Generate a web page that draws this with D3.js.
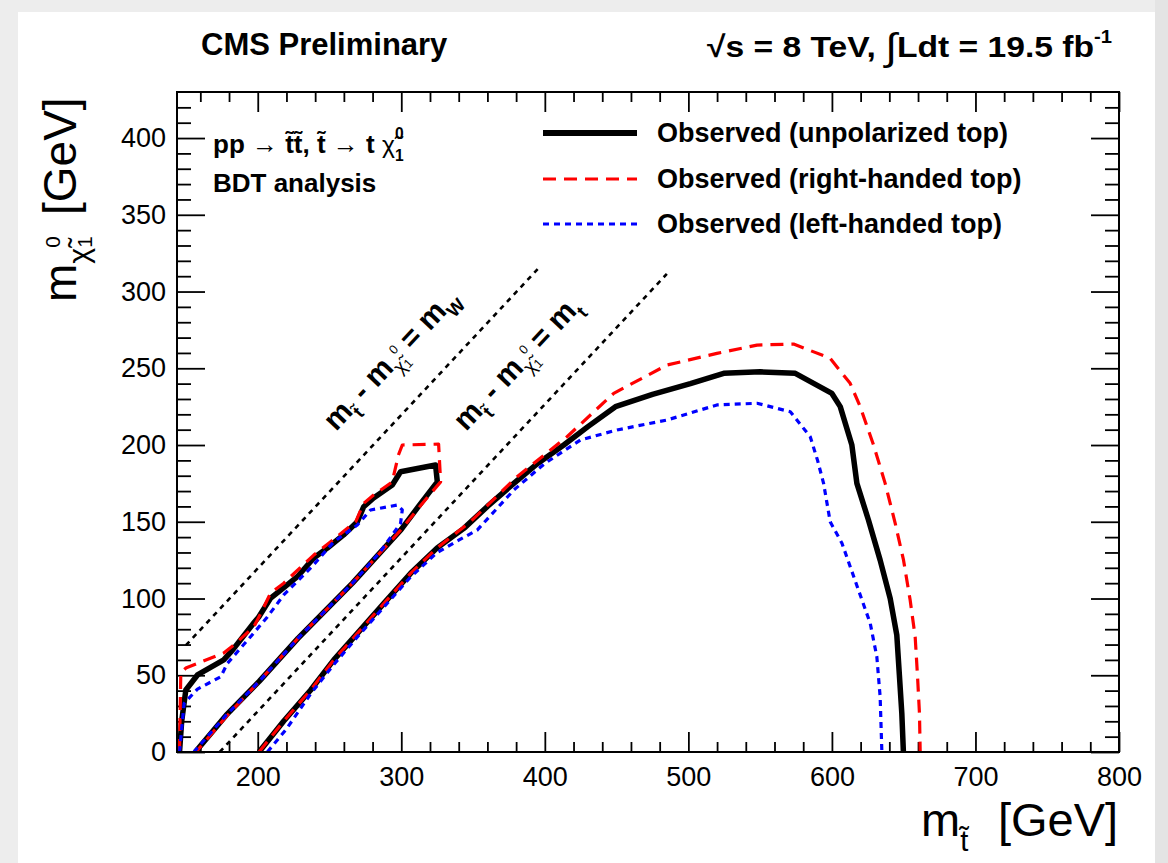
<!DOCTYPE html>
<html><head><meta charset="utf-8">
<script src="https://cdn.jsdelivr.net/npm/d3@7"></script>
<style>
body{margin:0;background:#fff;}
svg{display:block;}
text{font-family:"Liberation Sans",Arial,Helvetica,sans-serif;}
</style>
</head><body>
<svg id="chart" width="1168" height="863"></svg>
<script>
// ---------------- data ----------------
const xMajorTicks = [200, 300, 400, 500, 600, 700, 800];
const yMajorTicks = [0, 50, 100, 150, 200, 250, 300, 350, 400];
const xDomain = [143.75, 800];
const yDomain = [0, 430];

// Observed (unpolarized top) - small island and main region
const obsSmall = [[145.5,0],[147,20],[149.9,40.4],[158,50.2],[176.3,60],[182.4,66.4],[197.2,84],[200.7,88],[209,100.3],[216,105.5],[227.6,114.2],[239,126.4],[248.5,132.9],[259.8,141.4],[269.4,150],[273.8,159.8],[280.7,165.5],[293.7,174],[299.5,182.6],[323.9,187],[325.1,176],[312,160],[300,145],[266,110],[228,74],[201,46],[178,24],[156.5,0]];
const obsBig = [[200.9,0],[218,20],[236.9,40.4],[253,60],[269.4,77.3],[288,97],[306.5,116.4],[325,133],[343.6,145.7],[360,160],[378.4,175],[395,188],[413.2,200],[430,212],[449.2,225],[475,233],[501.4,240],[524.6,246.7],[550.1,247.7],[574.5,246.7],[600,233.6],[605.8,225],[613.9,200],[617.4,175],[625.5,151],[633.6,125],[640.6,100],[645.2,76.2],[647,50.2],[648.7,25.2],[649.8,0]];

// Observed (right-handed top)
const rhSmall = [[145.5,0],[146,30],[146.4,51.5],[149.9,54.7],[176.3,64.5],[183.3,69.7],[197.2,81.4],[203,92],[209,103.6],[218.1,110],[239,128.3],[250.8,137],[268.2,150],[273.8,162],[280.7,167.4],[293.7,176],[298,193.5],[300.7,200],[326,200.6],[327.4,176],[312,159],[300,145],[266,110],[228,74],[201,46],[178,23],[157,0]];
const rhBig = [[200.9,0],[218,20],[236.9,40.4],[253,60],[269.4,77.3],[306.5,116.4],[325,133],[348.2,150],[380.7,179.4],[415.5,205.4],[448,233.7],[485.1,252.1],[519.9,259.7],[547.8,265.1],[573.3,265.8],[598.8,256.5],[612.7,240.2],[619.7,225],[629,200],[637.1,175],[644.1,149],[649.9,125],[654.5,99],[658,75],[659.6,50],[661,25],[661.5,0]];

// Observed (left-handed top)
const lhSmall = [[145.5,0],[147,15],[148.7,31.7],[158,41],[174.2,49],[178.9,57.8],[197.2,77.5],[206.7,88],[218.1,102.3],[236.9,119.9],[253.1,137],[269.4,147.9],[278.6,157.7],[297.2,160.9],[300.7,157.7],[299.5,149],[285,130],[266,110],[228,74],[201,46],[178,24],[155.5,0]];
const lhBig = [[206.7,0],[220,15],[236.9,38],[253,57],[269.4,75],[306.5,114],[325,130],[340,138],[352.9,144.6],[378.4,170.7],[400,188],[424.8,203.3],[450.3,209.8],[485.1,216.3],[519.9,226.1],[547.8,227.2],[571,221.7],[584.9,205.4],[590,190],[594.2,175],[598.8,150],[607,136],[618.5,105.5],[626.7,83.8],[631.3,62],[633.6,36],[634.8,0]];

// kinematic reference lines (endpoints)
const mWLine = [[150,69.6],[395,314.6]];
const mtLine = [[173.5,0],[485,311.5]];

const legendLabels = ["Observed (unpolarized top)", "Observed (right-handed top)", "Observed (left-handed top)"];

// ---------------- layout ----------------
const svg = d3.select("#chart");
const W = 1168, H = 863;
const M = {left:177, right:1119, top:92, bottom:752};
const FONT = '"Liberation Sans",Arial,Helvetica,sans-serif';

svg.append("rect").attr("width",W).attr("height",H).attr("fill","#ededed");
svg.append("rect").attr("x",1155).attr("width",W-1155).attr("height",H).attr("fill","#e4e4e4");
svg.append("rect").attr("x",18).attr("y",12).attr("width",1137).attr("height",H-12).attr("fill","#ffffff");

const x = d3.scaleLinear().domain(xDomain).range([M.left, M.right]);
const y = d3.scaleLinear().domain(yDomain).range([M.bottom, M.top]);

svg.append("clipPath").attr("id","plotclip").append("rect")
  .attr("x",M.left).attr("y",M.top).attr("width",M.right-M.left).attr("height",M.bottom-M.top);

// ---------------- axes ----------------
const xMinor = d3.range(160, 800, 20).filter(v => v % 100 !== 0);
const yMinor = d3.range(10, 430, 10).filter(v => v % 50 !== 0);

function axisG(axis, tr){
  const g = svg.append("g").attr("transform", tr).call(axis);
  g.select(".domain").remove();
  g.selectAll("line").attr("stroke","#000").attr("stroke-width",1.8);
  g.attr("font-family", FONT).attr("font-size", 27);
  g.selectAll("text").attr("fill","#000");
  return g;
}
axisG(d3.axisBottom(x).tickValues(xMajorTicks).tickSize(-20).tickPadding(15).tickFormat(d3.format("d")), `translate(0,${M.bottom})`);
axisG(d3.axisBottom(x).tickValues(xMinor).tickSize(-10).tickFormat(""), `translate(0,${M.bottom})`);
axisG(d3.axisTop(x).tickValues(xMajorTicks).tickSize(-20).tickFormat(""), `translate(0,${M.top})`);
axisG(d3.axisTop(x).tickValues(xMinor).tickSize(-10).tickFormat(""), `translate(0,${M.top})`);
axisG(d3.axisLeft(y).tickValues(yMajorTicks).tickSize(-28).tickPadding(11).tickFormat(d3.format("d")), `translate(${M.left},0)`);
axisG(d3.axisLeft(y).tickValues(yMinor).tickSize(-14).tickFormat(""), `translate(${M.left},0)`);
axisG(d3.axisRight(y).tickValues(yMajorTicks).tickSize(-28).tickFormat(""), `translate(${M.right},0)`);
axisG(d3.axisRight(y).tickValues(yMinor).tickSize(-14).tickFormat(""), `translate(${M.right},0)`);

// ---------------- curves ----------------
const line = d3.line().x(d => x(d[0])).y(d => y(d[1]));
const plot = svg.append("g").attr("clip-path","url(#plotclip)");

[mWLine, mtLine].forEach(l => {
  plot.append("path").attr("d", line(l)).attr("fill","none")
    .attr("stroke","#000").attr("stroke-width",2.6).attr("stroke-dasharray","5,5");
});

const styles = [
  {color:"#000000", width:5.5, dash:null},
  {color:"#ff0000", width:3.2, dash:"13,8"},
  {color:"#0000ff", width:3.2, dash:"6,5"}
];
const series = [[obsSmall, obsBig],[rhSmall, rhBig],[lhSmall, lhBig]];
series.forEach((arr, i) => {
  arr.forEach(pts => {
    plot.append("path").attr("d", line(pts)).attr("fill","none")
      .attr("stroke", styles[i].color).attr("stroke-width", styles[i].width)
      .attr("stroke-linejoin","round")
      .attr("stroke-dasharray", styles[i].dash);
  });
});

// frame
svg.append("rect").attr("x",M.left).attr("y",M.top).attr("width",M.right-M.left).attr("height",M.bottom-M.top)
  .attr("fill","none").attr("stroke","#000").attr("stroke-width",2);

// ---------------- text helpers ----------------
// appends chi~^0_1 subscript; returns net vertical shift
function appendChi(t, s, k){
  k = k || 0.62;
  t.append("tspan").attr("font-size", s*k).attr("font-weight","normal").attr("dy", s*0.28).text("\u03C7\u0303");
  t.append("tspan").attr("font-size", s*k*0.68).attr("font-weight","normal").attr("dy", -s*0.62).text("0");
  t.append("tspan").attr("font-size", s*k*0.68).attr("font-weight","normal").attr("dx", -s*k*0.68*0.556).attr("dy", s*0.68).text("1");
  return s*0.34;
}

// titles
svg.append("text").attr("x",201).attr("y",55).attr("font-size",31).attr("font-weight","bold").text("CMS Preliminary");
{
  const t = svg.append("text").attr("x",1112).attr("y",57).attr("font-size",30).attr("font-weight","bold")
    .attr("text-anchor","end").attr("textLength",405).attr("lengthAdjust","spacingAndGlyphs");
  t.append("tspan").text("\u221As = 8 TeV, ");
  t.append("tspan").attr("font-size",38).attr("font-weight","normal").attr("dy",3).text("\u222B");
  t.append("tspan").attr("dy",-3).text("Ldt = 19.5 fb");
  t.append("tspan").attr("font-size",18).attr("dy",-14).text("-1");
}

// process label
{
  const s = 26;
  const t = svg.append("text").attr("x",213).attr("y",153).attr("font-size",s).attr("font-weight","bold");
  t.append("tspan").text("pp \u2192 t\u0303t\u0303, t\u0303 \u2192 t ");
  t.append("tspan").attr("font-size", s*0.95).attr("font-weight","normal").text("\u03C7\u0303");
  t.append("tspan").attr("font-size", s*0.6).attr("dy", -s*0.55).text("0");
  t.append("tspan").attr("font-size", s*0.6).attr("dx", -s*0.33).attr("dy", s*0.85).text("1");
  svg.append("text").attr("x",213).attr("y",192).attr("font-size",s).attr("font-weight","bold").text("BDT analysis");
}

// diagonal labels
const ang = -Math.atan2(y(mWLine[0][1]) - y(mWLine[1][1]), x(mWLine[1][0]) - x(mWLine[0][0])) * 180 / Math.PI;
function diagLabel(px, py, lastSub){
  const s = 30;
  const t = svg.append("text").attr("transform", `translate(${px},${py}) rotate(${ang})`)
    .attr("font-size", s).attr("font-weight","bold");
  t.append("tspan").text("m");
  t.append("tspan").attr("font-size", s*0.62).attr("dy", s*0.3).text("t\u0303");
  t.append("tspan").attr("dy", -s*0.3).text(" - m");
  const dd = appendChi(t, s, 0.62);
  t.append("tspan").attr("dy", -dd).text(" = m");
  t.append("tspan").attr("font-size", s*0.62).attr("dy", s*0.3).text(lastSub);
}
diagLabel(336, 432, "W");
diagLabel(466, 432, "t");

// legend
styles.forEach((st, i) => {
  const ly = [133, 179, 224][i];
  svg.append("line").attr("x1",543).attr("x2",637).attr("y1",ly).attr("y2",ly)
    .attr("stroke", st.color).attr("stroke-width", i === 0 ? 6 : 3.2).attr("stroke-dasharray", st.dash);
  svg.append("text").attr("x",657).attr("y",ly+9).attr("font-size",27).attr("font-weight","bold").text(legendLabels[i]);
});

// axis titles
{
  const s = 47;
  const t = svg.append("text").attr("x",921).attr("y",836).attr("font-size",s);
  t.append("tspan").text("m");
  t.append("tspan").attr("font-size", s*0.62).attr("dy", s*0.32).text("t\u0303");
  t.append("tspan").attr("x", 998).attr("dy", -s*0.32).text("[GeV]");
}
{
  const s = 46;
  const t = svg.append("text").attr("transform","translate(76,302) rotate(-90)").attr("font-size",s);
  t.append("tspan").text("m");
  const dd = appendChi(t, s, 0.66);
  t.append("tspan").attr("x", 87).attr("dy", -dd).text("[GeV]");
}
</script>
</body></html>
